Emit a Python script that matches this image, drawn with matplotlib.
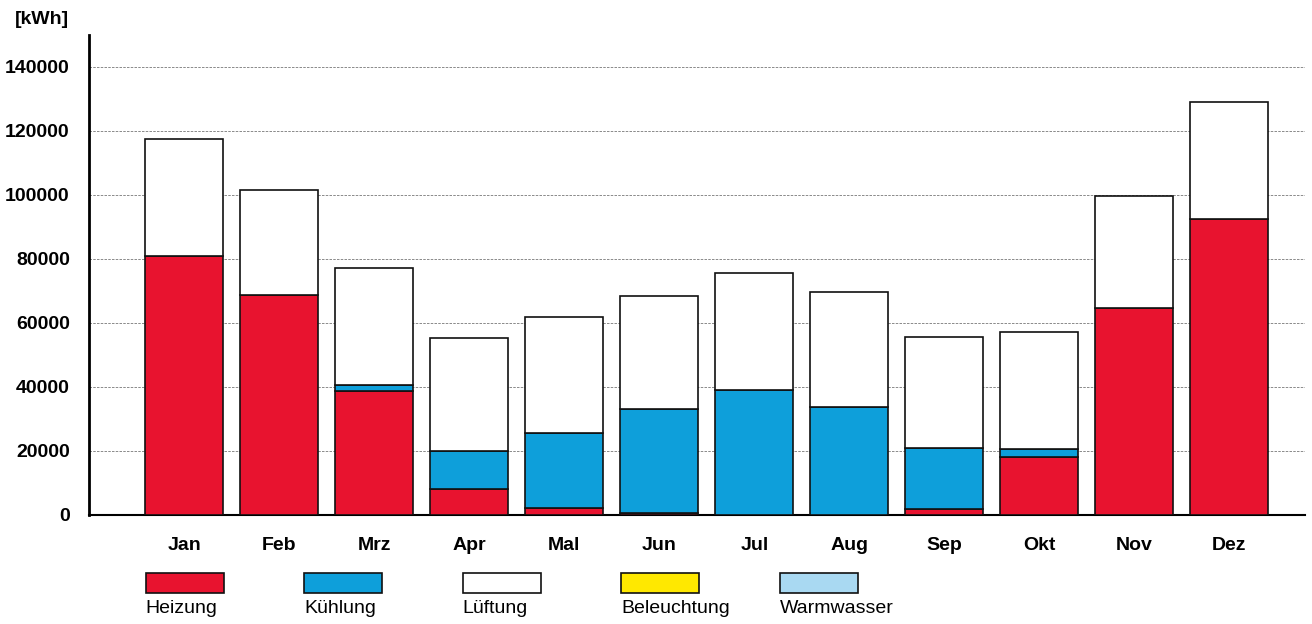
import matplotlib.pyplot as plt
import numpy as np
from matplotlib.patches import Rectangle

plt.rcParams['font.family'] = ['Liberation Sans', 'DejaVu Sans']

months = ['Jan', 'Feb', 'Mrz', 'Apr', 'Mal', 'Jun', 'Jul', 'Aug', 'Sep', 'Okt', 'Nov', 'Dez']

# monthly energy demand in kWh, per use
heizung = [81000, 68600, 38700, 8100, 2200, 600, 0, 0, 1900, 18100, 64500, 92500]
kuehlung = [0, 0, 1800, 11900, 23400, 32400, 39000, 33700, 19000, 2500, 0, 0]
lueftung = [36500, 32900, 36500, 35200, 36100, 35300, 36500, 36100, 34600, 36500, 35300, 36500]
beleuchtung = [0] * 12
warmwasser = [0] * 12

names = ['Heizung', 'Kühlung', 'Lüftung', 'Beleuchtung', 'Warmwasser']
series = [heizung, kuehlung, lueftung, beleuchtung, warmwasser]
colors = ['#E8132F', '#0E9FDA', '#FFFFFF', '#FFE800', '#A9D9F2']

yticks = [0, 20000, 40000, 60000, 80000, 100000, 120000, 140000]

fig = plt.figure(figsize=(13.12, 6.24), dpi=100)
ax = fig.add_axes([0.068, 0.175, 0.927, 0.769])

x = np.arange(1, len(months) + 1)
bottom = np.zeros(len(months))
for name, vals, c in zip(names, series, colors):
    vals = np.array(vals, dtype=float)
    lw = np.where(vals > 0, 1.2, 0.0)
    ax.bar(x, vals, width=0.82, bottom=bottom, color=c, edgecolor='#111111',
           linewidth=lw, zorder=3)
    bottom += vals

ax.set_xlim(0, 12.8)
ax.set_ylim(0, 150000)
ax.set_yticks(yticks)
ax.set_yticklabels([str(v) for v in yticks], fontsize=14, fontweight='bold')
ax.set_xticks(x)
ax.set_xticklabels(months, fontsize=14, fontweight='bold')
ax.tick_params(axis='x', length=0, pad=16)
ax.tick_params(axis='y', length=0, pad=14)

ax.yaxis.grid(True, linestyle=(0, (3, 1.5)), color='#777777', linewidth=0.6, zorder=0)
for s in ['top', 'right']:
    ax.spines[s].set_visible(False)
ax.spines['left'].set_linewidth(2)
ax.spines['bottom'].set_linewidth(1.5)

fig.text(0.011, 0.968, '[kWh]', fontsize=14, fontweight='bold', va='center')

# legend: swatch on top, name below
for i, (name, c) in enumerate(zip(names, colors)):
    x0 = 0.111 + i * 0.1208
    fig.patches.append(Rectangle((x0, 0.05), 0.0595, 0.032, transform=fig.transFigure,
                                 facecolor=c, edgecolor='#111111', linewidth=1.2))
    fig.text(x0, 0.025, name, fontsize=14, va='center', ha='left')

fig.savefig('out.png', dpi=100, facecolor='white')
